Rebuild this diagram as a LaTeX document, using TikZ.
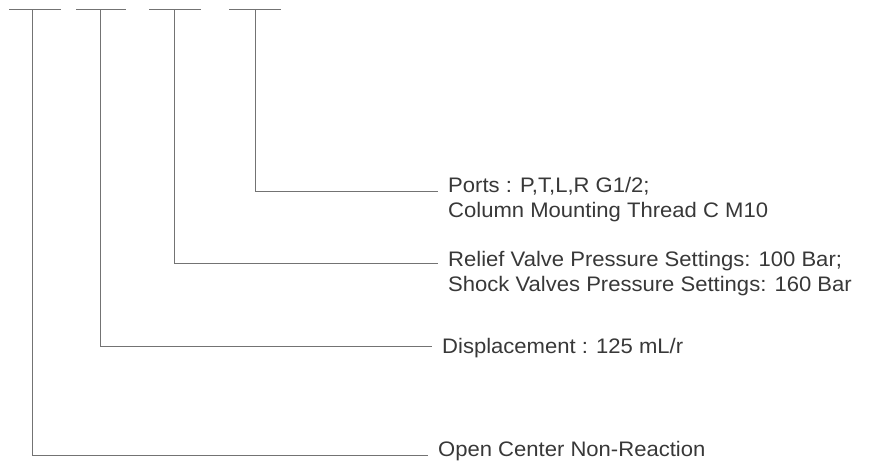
\documentclass[tikz,border=0pt]{standalone}
\usepackage{fontspec}
\setmainfont[FakeStretch=1.05]{Liberation Sans}
\begin{document}
\begin{tikzpicture}[x=1pt,y=-1pt,
  lead/.style={draw=black!55,line width=0.9pt},
  lbl/.style={anchor=base west,inner sep=0pt,text=black!78,font=\fontsize{21}{27}\selectfont}]
\useasboundingbox (0,0) rectangle (872,461);
\coordinate (b1l) at (9,9); \coordinate (b1r) at (61,9);
\coordinate (b2l) at (76,9); \coordinate (b2r) at (126,9);
\coordinate (b3l) at (149,9); \coordinate (b3r) at (201,9);
\coordinate (b4l) at (229,9); \coordinate (b4r) at (281,9);
\draw[lead] (b1l) -- (b1r); \draw[lead] (b2l) -- (b2r);
\draw[lead] (b3l) -- (b3r); \draw[lead] (b4l) -- (b4r);
\coordinate (t1) at (32,9); \coordinate (t2) at (100,9);
\coordinate (t3) at (174,9); \coordinate (t4) at (255,9);
\node[lbl] (portsa) at (448,192) {Ports : P,T,L,R G1/2;};
\node[lbl] (portsb) at (448,217) {Column Mounting Thread C M10};
\node[lbl] (reliefa) at (448,266) {Relief Valve Pressure Settings: 100 Bar;};
\node[lbl] (reliefb) at (448,291) {Shock Valves Pressure Settings: 160 Bar};
\node[lbl] (disp) at (442,353) {Displacement : 125 mL/r};
\node[lbl] (open) at (438,456) {Open Center Non-Reaction};
\coordinate (e4) at (438,191); \coordinate (e3) at (438,263);
\coordinate (e2) at (432,346); \coordinate (e1) at (428,455);
\draw[lead] (t4) |- (e4);
\draw[lead] (t3) |- (e3);
\draw[lead] (t2) |- (e2);
\draw[lead] (t1) |- (e1);
\end{tikzpicture}
\end{document}
